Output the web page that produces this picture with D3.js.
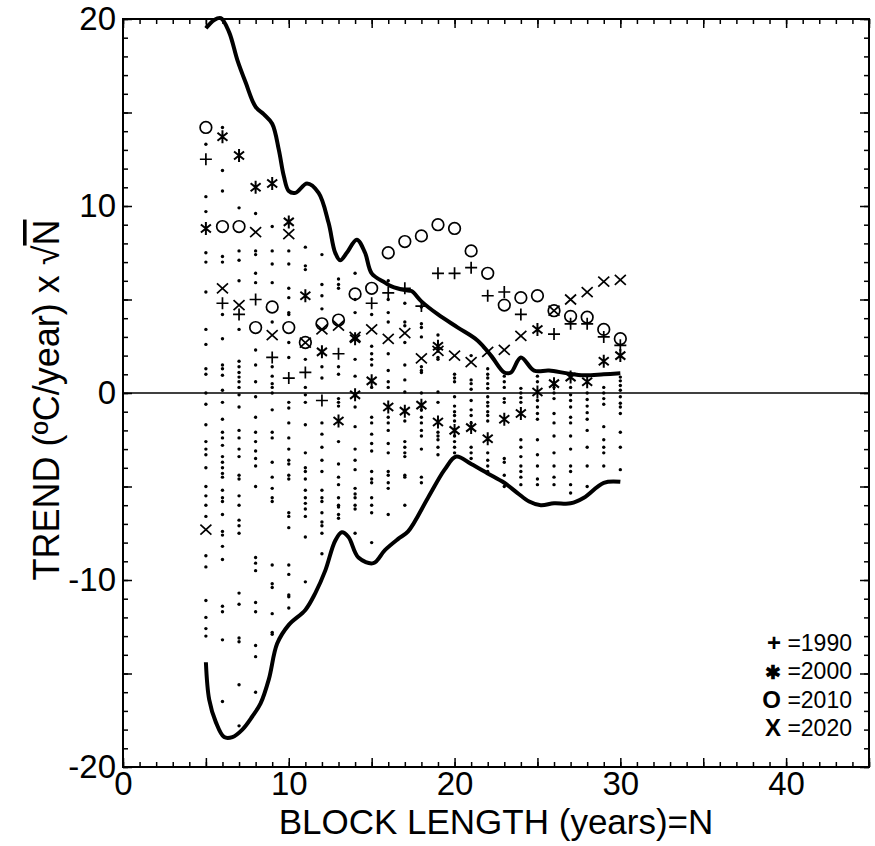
<!DOCTYPE html>
<html><head><meta charset="utf-8">
<script src="https://cdn.jsdelivr.net/npm/d3@7"></script>
<style>
html,body{margin:0;padding:0;background:#fff;}
text{font-family:"Liberation Sans",Arial,sans-serif;fill:#000;}
</style></head>
<body><svg id="c" width="875" height="846"></svg>
<script>
// ---------- DATA ----------
const blockLengths = d3.range(5, 31);
const dotColumns = [
  [13.3,10.5,9.7,7.5,7.0,5.4,3.4,2.6,1.3,1.0,0,-0.6,-1.7,-2.6,-3.0,-3.3,-4.0,-5.0,-5.5,-6.0,-6.6,-8.7,-9.3,-11.1,-12.0,-12.6,-13.0],
  [14.2,11.9,10.8,7.3,7.0,4.2,2.9,1.5,1.3,0.95,0.15,-0.5,-1.4,-2.1,-2.4,-2.8,-3.4,-3.7,-4.0,-4.3,-4.5,-5.2,-5.6,-5.8,-6.5,-7.4,-7.6,-8.2,-8.9,-11.4,-11.7,-13.2,-16.5],
  [9.9,7.6,7.1,6.0,3.4,1.7,1.4,1.1,0.85,0.6,0.3,-0.1,-0.75,-2.0,-2.4,-3.0,-3.4,-4.4,-4.6,-5.5,-6.0,-6.8,-7.1,-7.5,-10.7,-11.3,-13.1,-13.3,-15.6,-17.8],
  [9.6,7.6,7.4,6.4,5.9,2.3,1.5,0.6,-0.2,-1.3,-2.1,-2.6,-3.1,-3.5,-3.9,-5.0,-8.8,-9.1,-9.5,-11.2,-11.7,-13.5,-14.1,-16.0],
  [8.9,7.6,6.9,5.9,3.8,1.4,0.9,0.5,0.3,0,-0.9,-2.1,-2.4,-3.7,-4.5,-5.1,-5.6,-5.8,-9.2,-10.2,-10.4,-11.8,-12.8,-12.9],
  [7.6,6.9,5.6,5.1,4.3,4.2,2.7,1.9,-0.5,-0.8,-1.6,-2.4,-3.0,-3.6,-3.8,-4.4,-4.6,-6.4,-6.6,-7.2,-9.2,-9.7,-10.8,-10.9,-11.5],
  [7.8,6.8,6.6,1.8,0.3,-0.1,-0.5,-1.7,-3.2,-4.0,-4.2,-4.6,-5.2,-5.6,-5.9,-6.2,-6.6,-7.7,-10.1],
  [7.4,5.8,5.2,4.5,1.4,0.8,-1.6,-2.2,-2.9,-3.6,-4.2,-5.2,-5.6,-5.8,-6.4,-6.9,-7.1,-7.5,-8.6],
  [6.1,5.8,5.6,1.4,1.0,-0.3,-0.5,-0.7,-2.6,-3.8,-4.5,-4.9,-5.6,-6.0,-6.1,-6.5,-6.7],
  [6.4,5.0,4.3,1.8,0.9,-0.75,-1.8,-3.0,-3.6,-4.1,-5.1,-5.4,-5.6,-6.0,-6.2,-7.5],
  [4.2,2.5,2.1,1.8,1.5,0.3,-1.3,-1.6,-2.2,-2.7,-3.1,-4.2,-4.6,-4.8,-5.6,-6.0,-6.4,-8.0],
  [6.0,5.0,4.3,3.8,2.1,1.2,0.6,0.3,-1.3,-1.6,-2.0,-2.7,-3.2,-4.2,-4.4,-4.8,-5.1,-6.5],
  [4.8,3.8,3.6,2.7,1.5,0.7,0.05,-1.5,-2.6,-2.9,-3.2,-3.4,-4.4,-4.5,-6.0],
  [4.6,3.7,3.5,3.0,1.4,1.2,1.1,0,-0.9,-1.3,-1.6,-2.0,-2.3,-3.0,-4.5,-4.8],
  [3.1,1.9,1.8,0.05,-0.5,-2.1,-2.3,-2.5,-2.9,-3.3],
  [1.0,0.8,0.6,-0.2,-0.7,-1.0,-1.2,-1.5,-2.3,-2.6,-2.9,-3.2],
  [2.0,0.7,0.5,0.2,-0.4,-0.9,-1.2,-1.6,-2.9,-3.2,-3.5],
  [1.3,1.0,0.8,0.5,0.25,-0.2,-0.5,-0.7,-1.0,-1.2,-1.5,-3.2,-3.6,-3.9,-4.2],
  [0.9,0.6,0.3,-0.3,-0.5,-3.5,-3.7,-4.4,-5.0],
  [0.25,0,-0.25,-0.5,-2.5,-2.9,-3.4,-3.9,-4.2,-4.5,-4.9],
  [0.9,0.6,-0.4,-0.75,-1.1,-1.4,-2.5,-3.3,-3.9,-4.6,-4.9],
  [0.3,0,-0.3,-1.1,-1.6,-2.3,-3.2,-3.9,-4.5,-4.9],
  [0.3,-0.1,-0.4,-0.75,-1.3,-1.6,-2.3,-3.0,-3.9,-4.2,-4.9,-5.35],
  [0,-0.35,-0.7,-1.05,-1.4,-2.0,-2.9,-3.9,-5.0],
  [0.3,0,-0.3,-0.6,-1.8,-2.5,-2.9,-3.2,-3.9],
  [0.85,0.65,0.4,0.15,-0.2,-0.55,-0.75,-1.1,-2.1,-2.9,-4.1]
];
// marker series: [N, value]
const plus1990 = [[5,12.5],[6,4.8],[7,4.2],[8,5.0],[9,1.9],[10,0.8],[11,1.1],[12,-0.4],[13,2.1],[15,4.8],[16,5.35],[17,5.6],[18,4.65],[19,6.4],[20,6.4],[21,6.7],[22,5.2],[23,5.4],[24,4.2],[26,3.15],[27,3.7],[28,3.7],[29,3.0],[30,2.55]];
const star2000 = [[5,8.8],[6,13.7],[7,12.7],[8,11.0],[9,11.2],[10,9.15],[11,5.2],[12,2.2],[13,-1.5],[14,2.9],[14,-0.1],[15,0.65],[16,-0.75],[17,-0.97],[18,-0.65],[19,2.5],[19,-1.55],[20,-2.0],[21,-1.85],[22,-2.45],[23,-1.4],[24,-1.1],[25,3.4],[25,0.05],[26,0.5],[27,0.85],[28,0.6],[29,1.7],[30,2.0]];
const circle2010 = [[5,14.2],[6,8.9],[7,8.9],[8,3.5],[9,4.6],[10,3.5],[11,2.7],[12,3.7],[13,3.9],[14,5.3],[15,5.6],[16,7.5],[17,8.1],[18,8.4],[19,9.0],[20,8.8],[21,7.6],[22,6.4],[23,4.7],[24,5.1],[25,5.2],[26,4.4],[27,4.1],[28,4.05],[29,3.4],[30,2.9]];
const cross2020 = [[5,-7.3],[6,5.6],[7,4.7],[8,8.6],[9,3.1],[10,8.5],[11,2.7],[12,3.4],[13,3.6],[14,3.0],[15,3.4],[16,2.9],[17,3.2],[18,1.85],[19,2.25],[20,2.0],[21,1.65],[22,2.2],[23,2.3],[24,3.05],[26,4.4],[27,5.0],[28,5.4],[29,5.95],[30,6.05]];
const upperN = [5,5.5,5.9,6.4,6.9,7.4,8,8.5,9,9.4,9.7,10,10.4,11.1,11.8,12.4,12.8,13.1,13.5,14.1,14.6,15,15.8,16.2,17,17.4,18,19,20.2,21.4,22.2,23,23.4,24,24.8,25.7,26.8,27.8,29,30];
const upperV = [19.5,19.95,20.05,19.3,17.8,16.6,15.3,14.9,14.4,13.0,11.6,10.8,10.7,11.2,10.7,9.1,7.5,7.1,7.5,8.2,7.5,6.4,5.9,5.7,5.5,5.45,4.9,4.2,3.5,2.8,2.0,1.1,1.1,1.9,1.2,1.2,1.05,0.95,1.0,1.05];
const lowerN = [5,5.2,5.6,6.1,6.6,7.2,7.8,8.3,8.8,9.3,10,11,11.6,12.2,12.8,13.2,13.6,14.2,15.1,15.8,16.6,17.2,18.4,19.4,20.1,21,22,23,23.8,24.5,25.2,26,27,27.8,29,30];
const lowerV = [-14.4,-16.4,-17.6,-18.4,-18.4,-18.0,-17.3,-16.6,-15.3,-13.4,-12.4,-11.6,-10.7,-9.5,-7.9,-7.45,-7.7,-8.8,-9.1,-8.4,-7.8,-7.4,-5.6,-4.1,-3.4,-3.8,-4.3,-4.8,-5.35,-5.8,-6.0,-5.9,-5.9,-5.6,-4.8,-4.75];
const xTickLabels = [0,10,20,30,40];
const yTickLabels = [-20,-10,0,10,20];
const legendSymbols = ["+","✱","O","X"];
const legendYears = ["1990","2000","2010","2020"];

// ---------- CHART ----------
const svg = d3.select("#c");
const L=123,R=869,T=19,B=767;
const x = d3.scaleLinear().domain([0,45]).range([L,R]);
const y = d3.scaleLinear().domain([-20,20]).range([B,T]);

svg.append("rect").attr("x",L).attr("y",T).attr("width",R-L).attr("height",B-T)
  .attr("fill","none").attr("stroke","#000").attr("stroke-width",2);

function ticks(axisGen, transform, vals, size){
  svg.append("g").attr("transform",transform)
    .call(axisGen.tickValues(vals).tickSize(size).tickFormat(""))
    .call(g=>g.select(".domain").remove())
    .call(g=>g.selectAll("line").attr("stroke","#000").attr("stroke-width",1.5));
}
const minorX=d3.range(0,46,1), majorX=d3.range(0,46,5);
const minorY=d3.range(-20,21,1), majorY=d3.range(-20,21,5);
ticks(d3.axisBottom(x),`translate(0,${B})`,minorX,-5);
ticks(d3.axisBottom(x),`translate(0,${B})`,majorX,-9);
ticks(d3.axisTop(x),`translate(0,${T})`,minorX,-5);
ticks(d3.axisTop(x),`translate(0,${T})`,majorX,-9);
ticks(d3.axisLeft(y),`translate(${L},0)`,minorY,-5);
ticks(d3.axisLeft(y),`translate(${L},0)`,majorY,-9);
ticks(d3.axisRight(y),`translate(${R},0)`,minorY,-5);
ticks(d3.axisRight(y),`translate(${R},0)`,majorY,-9);

svg.append("g").attr("transform",`translate(0,${B})`)
  .call(d3.axisBottom(x).tickValues(xTickLabels).tickSize(0).tickPadding(5).tickFormat(d3.format("d")))
  .call(g=>g.select(".domain").remove())
  .call(g=>g.selectAll("text").attr("font-size",33).attr("font-family","Liberation Sans, Arial"));
svg.append("g").attr("transform",`translate(${L},0)`)
  .call(d3.axisLeft(y).tickValues(yTickLabels).tickSize(0).tickPadding(7).tickFormat(d=>d<0?"-"+Math.abs(d):d))
  .call(g=>g.select(".domain").remove())
  .call(g=>g.selectAll("text").attr("font-size",33).attr("font-family","Liberation Sans, Arial"));

svg.append("line").attr("x1",L).attr("x2",R).attr("y1",y(0)).attr("y2",y(0))
  .attr("stroke","#000").attr("stroke-width",1.6);

const dotData = [];
blockLengths.forEach((n,i)=>dotColumns[i].forEach(v=>dotData.push([n,v])));
svg.append("g").selectAll("circle").data(dotData).join("circle")
  .attr("cx",d=>x(d[0])).attr("cy",d=>y(d[1])).attr("r",1.7).attr("fill","#000");

const line = d3.line().x(d=>x(d[0])).y(d=>y(d[1])).curve(d3.curveCatmullRom.alpha(0.5));
svg.append("path").datum(d3.zip(upperN,upperV)).attr("d",line)
  .attr("fill","none").attr("stroke","#000").attr("stroke-width",4).attr("stroke-linejoin","round");
svg.append("path").datum(d3.zip(lowerN,lowerV)).attr("d",line)
  .attr("fill","none").attr("stroke","#000").attr("stroke-width",4).attr("stroke-linejoin","round");

const mk = svg.append("g").attr("stroke","#000").attr("fill","none").attr("stroke-width",1.7);
plus1990.forEach(d=>{const cx=x(d[0]),cy=y(d[1]);
  mk.append("path").attr("d",`M${cx-6},${cy}H${cx+6}M${cx},${cy-6}V${cy+6}`);});
star2000.forEach(d=>{const cx=x(d[0]),cy=y(d[1]);
  mk.append("path").attr("d",`M${cx-5},${cy-4}L${cx+5},${cy+4}M${cx-5},${cy+4}L${cx+5},${cy-4}M${cx},${cy-6.5}V${cy+6.5}`).attr("stroke-width",2);});
circle2010.forEach(d=>{
  mk.append("circle").attr("cx",x(d[0])).attr("cy",y(d[1])).attr("r",5.8);});
cross2020.forEach(d=>{const cx=x(d[0]),cy=y(d[1]);
  mk.append("path").attr("d",`M${cx-5.5},${cy-5}L${cx+5.5},${cy+5}M${cx-5.5},${cy+5}L${cx+5.5},${cy-5}`);});

// legend
const lg = svg.append("g").selectAll("text").data(legendYears).join("text")
  .attr("x",852).attr("y",(d,i)=>651+i*28.3).attr("text-anchor","end").attr("font-size",23);
lg.append("tspan").attr("font-weight","bold").attr("font-size",(d,i)=>i===1?19:24)
  .text((d,i)=>legendSymbols[i]);
lg.append("tspan").text(d=>" ="+d);

// axis titles
svg.append("text").attr("x",(L+R)/2).attr("y",834).attr("text-anchor","middle")
  .attr("font-size",35).text("BLOCK LENGTH (years)=N");
const yt = svg.append("text").attr("transform","translate(59,400) rotate(-90)")
  .attr("text-anchor","middle").attr("font-size",36);
yt.append("tspan").text("TREND (ºC/year) x √");
yt.append("tspan").style("text-decoration","overline").text("N");
</script></body></html>
